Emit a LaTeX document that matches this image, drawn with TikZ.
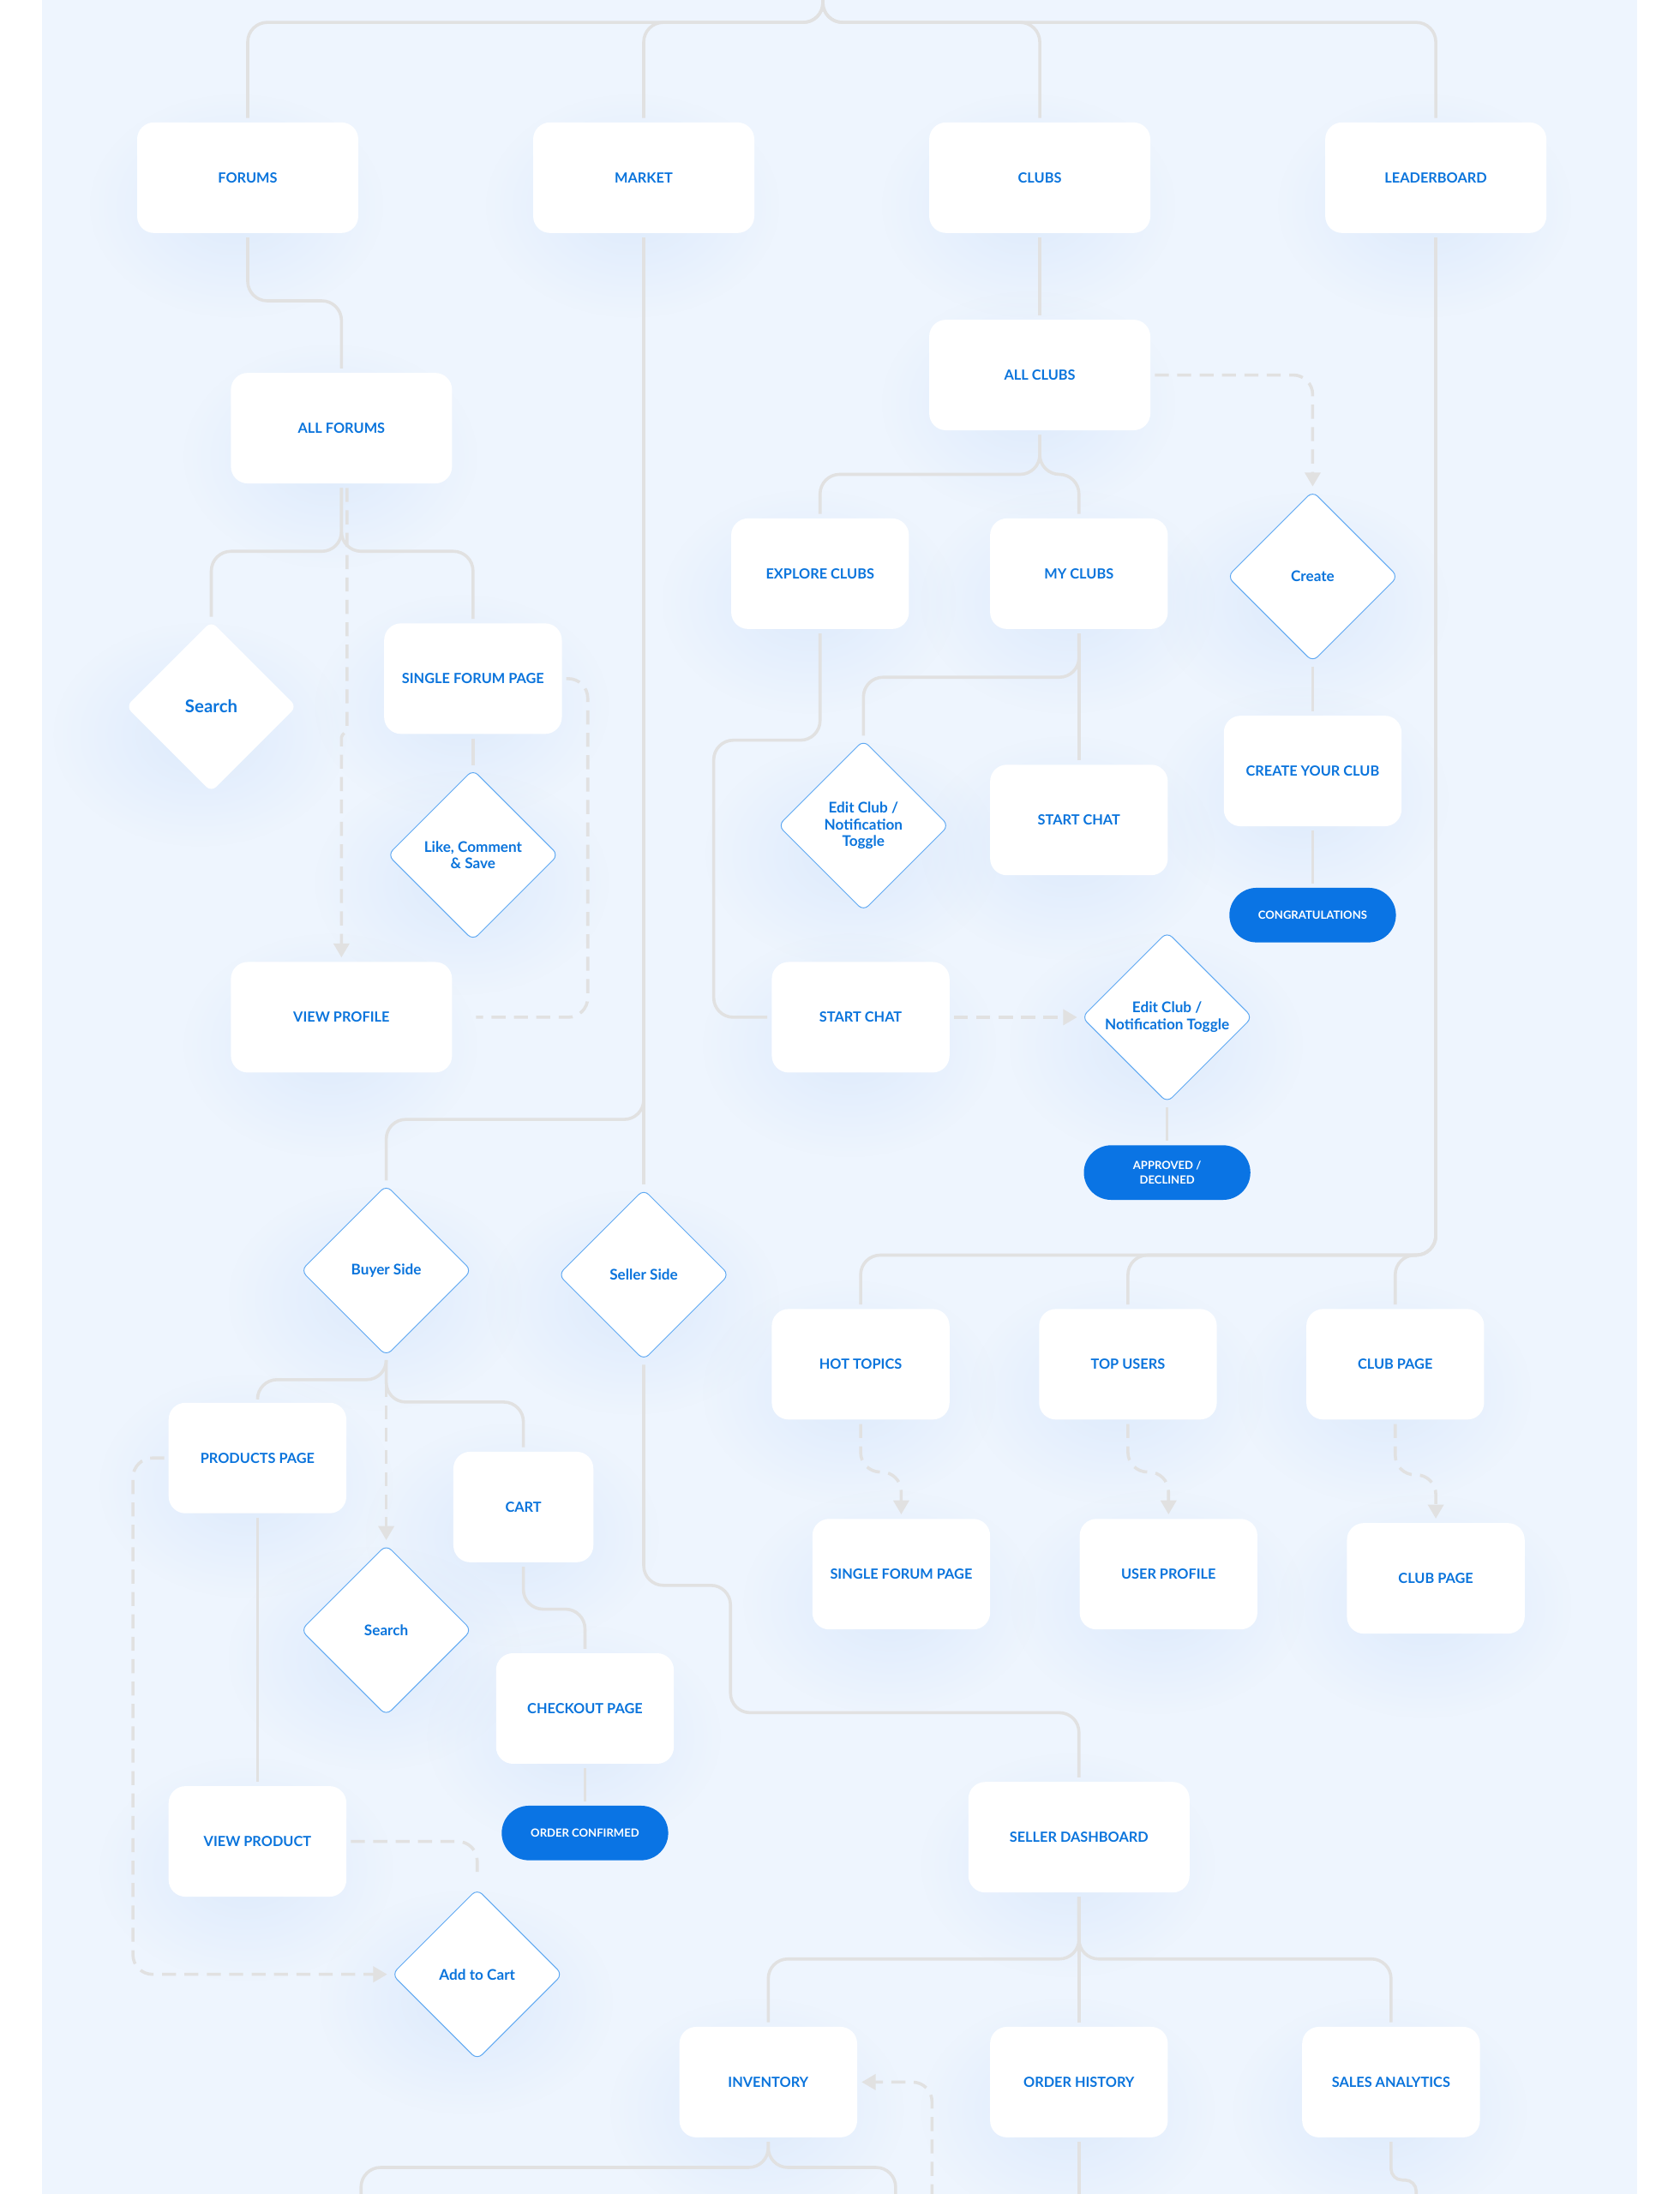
\documentclass[tikz,border=0pt]{standalone}
\usepackage{fontspec}
\setmainfont{Lato}
\usetikzlibrary{shapes.geometric,arrows.meta,fadings}

\definecolor{ink}{HTML}{0A74DC}
\definecolor{pillblue}{HTML}{0A74E4}
\definecolor{edge}{HTML}{5EA8F2}
\definecolor{wire}{HTML}{E1E1E1}
\definecolor{pagebg}{HTML}{EEF5FE}
\definecolor{glowblue}{HTML}{D2E3FB}

\pgfdeclarelayer{background}
\pgfsetlayers{background,main}
\tikzfading[name=haze, inner color=transparent!40, outer color=transparent!100]

\begin{document}
\begin{tikzpicture}[x=1pt, y=-1pt,
  box/.style={rectangle, rounded corners=12pt, fill=white, text=ink, font=\bfseries\fontsize{10}{12}\selectfont, minimum width=127pt, minimum height=79pt, inner sep=2pt},
  wide/.style={box, minimum width=158pt},
  choice/.style={diamond, aspect=1, rounded corners=5pt, fill=white, draw=edge, line width=0.6pt, text=ink, font=\bfseries\fontsize{10.5}{12}\selectfont, minimum width=122pt, minimum height=122pt, inner sep=0pt, align=center},
  pill/.style={rectangle, rounded corners=19.5pt, fill=pillblue, text=white, font=\bfseries\fontsize{8}{11}\selectfont, minimum width=119pt, minimum height=39pt, inner sep=0pt, align=center},
  link/.style={draw=wire, line width=2.2pt, rounded corners=14pt, shorten <=3pt, shorten >=3pt},
  jump/.style={link, dash pattern=on 10pt off 6pt},
  arrowed/.style={-{Triangle[width=11pt,length=10pt]}}]
\useasboundingbox (0,0) rectangle (1200,1568);

\node[wide] (forums) at (177,127) {FORUMS};
\node[wide] (market) at (460,127) {MARKET};
\node[wide] (clubs) at (743,127) {CLUBS};
\node[wide] (leaderboard) at (1026,127) {LEADERBOARD};

\node[wide] (allforums) at (244,306) {ALL FORUMS};
\node[choice, draw=none, font=\bfseries\fontsize{12.5}{14}\selectfont] (search) at (151,505) {Search};
\node[box] (singleforum) at (338,485) {SINGLE FORUM PAGE};
\node[choice] (like) at (338,611) {Like, Comment\\\& Save};
\node[wide] (viewprofile) at (244,727) {VIEW PROFILE};

\node[wide] (allclubs) at (743,268) {ALL CLUBS};
\node[box] (explore) at (586,410) {EXPLORE CLUBS};
\node[box] (myclubs) at (771,410) {MY CLUBS};
\node[choice] (create) at (938,412) {Create};
\node[choice] (editclub) at (617,590) {Edit Club /\\Notification\\Toggle};
\node[box] (startchat) at (771,586) {START CHAT};
\node[box] (createclub) at (938,551) {CREATE YOUR CLUB};
\node[pill] (congrats) at (938,654) {CONGRATULATIONS};
\node[box] (chatstart) at (615,727) {START CHAT};
\node[choice] (editrequest) at (834,727) {Edit Club /\\Notification Toggle};
\node[pill] (approved) at (834,838) {APPROVED /\\DECLINED};

\node[choice] (buyer) at (276,908) {Buyer Side};
\node[choice] (seller) at (460,911) {Seller Side};
\node[box] (products) at (184,1042) {PRODUCTS PAGE};
\node[box, minimum width=100pt] (cart) at (374,1077) {CART};
\node[choice] (findproduct) at (276,1165) {Search};
\node[box] (checkout) at (418,1221) {CHECKOUT PAGE};
\node[pill] (orderok) at (418,1310) {ORDER CONFIRMED};
\node[box] (viewproduct) at (184,1316) {VIEW PRODUCT};
\node[choice] (addcart) at (341,1411) {Add to Cart};

\node[box] (hottopics) at (615,975) {HOT TOPICS};
\node[box] (topusers) at (806,975) {TOP USERS};
\node[box] (clubpage) at (997,975) {CLUB PAGE};
\node[box] (forumpage) at (644,1125) {SINGLE FORUM PAGE};
\node[box] (userprofile) at (835,1125) {USER PROFILE};
\node[box] (clubview) at (1026,1128) {CLUB PAGE};

\node[wide] (dashboard) at (771,1313) {SELLER DASHBOARD};
\node[box] (inventory) at (549,1488) {INVENTORY};
\node[box] (history) at (771,1488) {ORDER HISTORY};
\node[box] (analytics) at (994,1488) {SALES ANALYTICS};

\coordinate (root) at (588,-20);
\coordinate (outleft) at (258,1590);
\coordinate (outright) at (640,1590);
\coordinate (outhistory) at (771,1590);
\coordinate (outsales) at (1012,1590);
\coordinate (backlink) at (666,1590);

\begin{pgfonlayer}{background}
\fill[white] (0,0) rectangle (1200,1568);
\fill[pagebg] (30,0) rectangle (1170,1568);
\foreach \n in {forums,market,clubs,leaderboard,allforums,search,singleforum,like,viewprofile,allclubs,explore,myclubs,create,editclub,startchat,createclub,chatstart,editrequest,buyer,seller,products,cart,findproduct,checkout,viewproduct,addcart,hottopics,topusers,clubpage,forumpage,userprofile,clubview,dashboard,inventory,history,analytics}
  \fill[glowblue, path fading=haze] ([xshift=-8pt,yshift=-20pt]\n.center) ellipse (105 and 80);
\end{pgfonlayer}

\draw[link] (root) |- (177,16) -- (forums.north);
\draw[link] (root) |- (460,16) -- (market.north);
\draw[link] (root) |- (743,16) -- (clubs.north);
\draw[link] (root) |- (1026,16) -- (leaderboard.north);

\draw[link] (forums.south) |- (244,215) -- (allforums.north);
\draw[link] (allforums.south) |- (151,394) -- (search.north);
\draw[link] (allforums.south) |- (338,394) -- (singleforum.north);
\draw[link] (singleforum) -- (like);
\draw[jump, arrowed, rounded corners=1pt] ([xshift=4pt]allforums.south) -- (248,522) -- (244,526) -- (viewprofile.north);
\draw[jump] (singleforum.east) -| (420,727) -- ([xshift=14pt]viewprofile.east);

\draw[link] (clubs) -- (allclubs);
\draw[jump, arrowed] (allclubs.east) -| (create.north);
\draw[link] (allclubs.south) |- (586,339) -- (explore.north);
\draw[link] (allclubs.south) |- (771,339) -- (myclubs.north);
\draw[link] (myclubs) -- (startchat);
\draw[link] (myclubs.south) |- (617,484) -- (editclub.north);
\draw[link] (explore.south) |- (510,529) |- (chatstart.west);
\draw[jump, arrowed] (chatstart) -- (editrequest);
\draw[link] (editrequest) -- (approved);
\draw[link] (create) -- (createclub);
\draw[link] (createclub) -- (congrats);

\draw[link] (market) -- (seller);
\draw[link] (market.south) |- (276,800) -- (buyer.north);
\draw[link] (buyer.south) |- (184,986) -- (products.north);
\draw[link] (buyer.south) |- (374,1002) -- (cart.north);
\draw[jump, arrowed] (buyer) -- (findproduct);
\draw[link] (cart.south) |- (418,1150) -- (checkout.north);
\draw[link] (checkout) -- (orderok);
\draw[link] (products) -- (viewproduct);
\draw[jump, shorten >=8pt] (viewproduct.east) -| (addcart.north);
\draw[jump, arrowed] (products.west) -| (95,1411) -- (addcart.west);

\draw[link] (leaderboard.south) |- (615,897) -- (hottopics.north);
\draw[link] (leaderboard.south) |- (806,897) -- (topusers.north);
\draw[link] (leaderboard.south) |- (997,897) -- (clubpage.north);
\draw[jump, arrowed] (hottopics.south) |- (644,1052) -- (forumpage.north);
\draw[jump, arrowed] (topusers.south) |- (835,1052) -- (userprofile.north);
\draw[jump, arrowed] (clubpage.south) |- (1026,1054) -- (clubview.north);

\draw[link] (seller.south) |- (522,1133) |- (771,1224) -- (dashboard.north);
\draw[link] (dashboard.south) |- (549,1400) -- (inventory.north);
\draw[link] (dashboard.south) |- (994,1400) -- (analytics.north);
\draw[link] (dashboard) -- (history);
\draw[link] (inventory.south) |- (258,1549) -- (outleft);
\draw[link] (inventory.south) |- (640,1549) -- (outright);
\draw[link] (history) -- (outhistory);
\draw[link, rounded corners=8pt] (analytics.south) |- (1012,1558) -- (outsales);
\draw[jump, arrowed] (backlink) |- (inventory.east);
\end{tikzpicture}
\end{document}
